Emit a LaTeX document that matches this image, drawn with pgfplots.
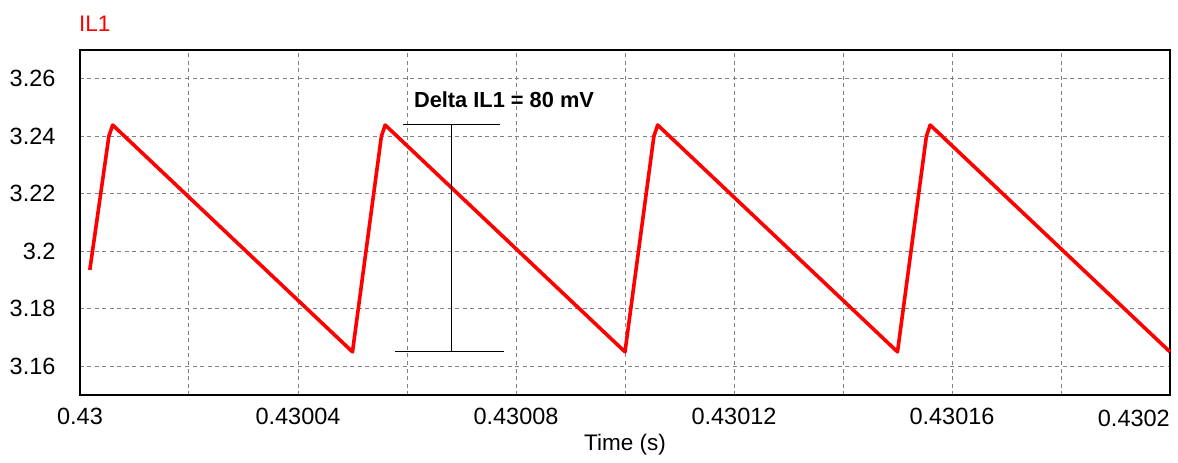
\documentclass[border=0pt]{standalone}
\usepackage{fontspec}
\setmainfont{Liberation Sans}
\usepackage{pgfplots}
\pgfplotsset{compat=1.18}
\definecolor{ilred}{RGB}{255,0,0}
\begin{document}
\begin{tikzpicture}
\path[use as bounding box] (-80pt,-68pt) rectangle (1098pt,395pt);
% x is in microseconds after t = 0.43 s (labels give the real times)
\begin{axis}[
  at={(0,0)}, anchor=south west,
  scale only axis, width=1090pt, height=345pt,
  clip=false,
  xmin=0, xmax=200, ymin=3.15, ymax=3.27,
  xtick={0,20,40,60,80,100,120,140,160,180,200},
  xticklabels={0.43,{},0.43004,{},0.43008,{},0.43012,{},0.43016,{},{}},
  ytick={3.16,3.18,3.2,3.22,3.24,3.26},
  yticklabels={3.16,3.18,3.2,3.22,3.24,3.26},
  major tick length=0pt,
  grid=major,
  major grid style={gray, dash pattern=on 4pt off 3.5pt, line width=1pt},
  axis line style={black, line width=1.3pt},
  tick label style={font=\fontsize{23.5}{28}\selectfont, black},
  xticklabel style={yshift=-10pt},
  yticklabel style={xshift=-21pt},
  xlabel={Time (s)},
  xlabel style={font=\fontsize{22.5}{27}\selectfont, at={(axis description cs:0.5,0)}, anchor=center, yshift=-50pt},
]
\addplot[ilred, line width=3.6pt, line join=round] coordinates {
  (1.8,3.1935)(5.3,3.2400)(6.0,3.2439)
  (50.0,3.1650)(55.3,3.2400)(56.0,3.2439)
  (100.0,3.1650)(105.3,3.2400)(106.0,3.2439)
  (150.0,3.1650)(155.3,3.2400)(156.0,3.2439)
  (200.0,3.1650)
};
% delta annotation
\draw[black, line width=1pt] (axis cs:59.3,3.2441) -- (axis cs:77.1,3.2441);
\draw[black, line width=1pt] (axis cs:57.8,3.1650) -- (axis cs:77.8,3.1650);
\draw[black, line width=1pt] (axis cs:68.1,3.2441) -- (axis cs:68.1,3.1650);
\node[font=\fontsize{21.8}{26}\selectfont\bfseries, inner sep=0pt] at (axis cs:77.8,3.2527) {Delta IL1 = 80 mV};
% title and last tick label
\node[font=\fontsize{22.5}{27}\selectfont, text=ilred, anchor=west, inner sep=0pt] at ([yshift=26pt,xshift=-1pt]rel axis cs:0,1) {IL1};
\node[font=\fontsize{23.5}{28}\selectfont, anchor=north east, inner sep=0pt] at ([yshift=-15pt]rel axis cs:1,0) {0.4302};
\end{axis}
\end{tikzpicture}
\end{document}
